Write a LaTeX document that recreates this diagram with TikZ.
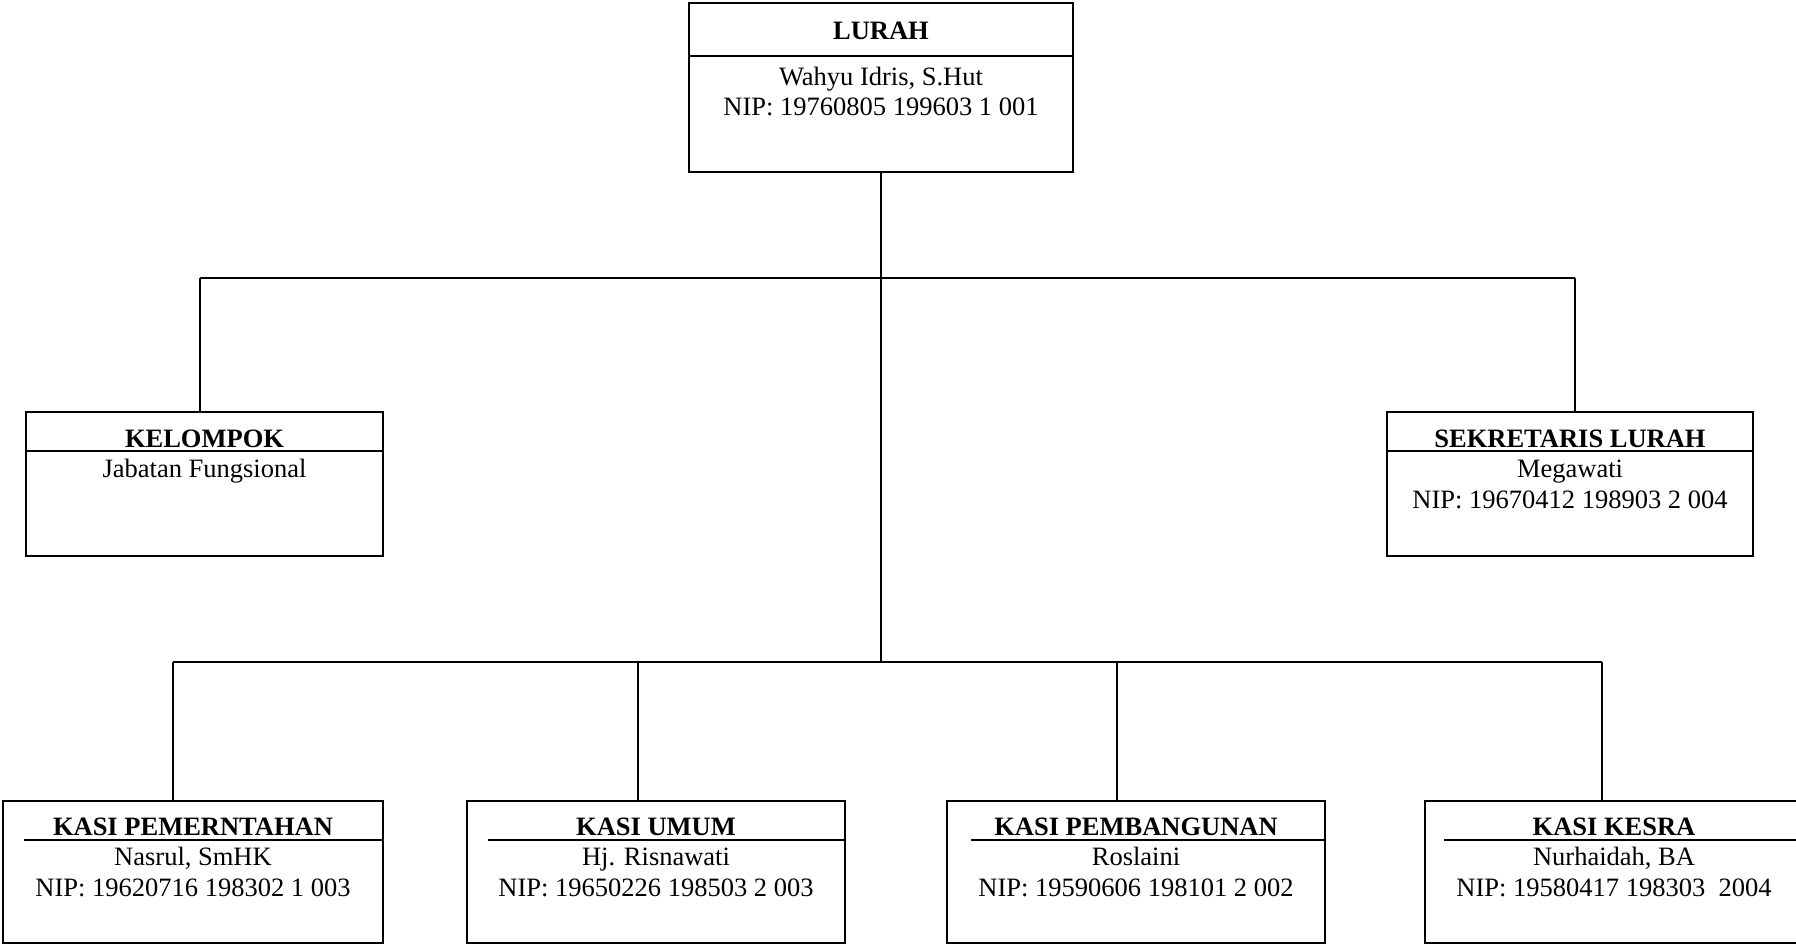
\documentclass[tikz,border=0pt]{standalone}
\usepackage{fontspec}
\setmainfont{Liberation Serif}
\usetikzlibrary{calc}

\begin{document}
\begin{tikzpicture}[x=0.5pt,y=-0.5pt]
							\tikzstyle{every node}+=[inner sep=0pt, font=\fontsize{13.25}{15}\selectfont]
							\tikzstyle{box}=[draw=black, line width=1pt, rectangle]
							\tikzstyle{title}=[anchor=base, font=\fontsize{13.25}{15}\selectfont\bfseries]
							\tikzstyle{line}=[anchor=base]
							\tikzstyle{wire}=[black, line width=0.65pt]
							\useasboundingbox (0,0) rectangle (1796,945);
							% boxes
							\node [box, minimum width=192pt, minimum height=84.5pt] (lurah) at (881,87.5) {};
							\node [box, minimum width=178.5pt, minimum height=72pt] (kel) at (204.5,484) {};
							\node [box, minimum width=183pt, minimum height=72pt] (sek) at (1570,484) {};
							\node [box, minimum width=190pt, minimum height=71pt] (pem) at (193,872) {};
							\node [box, minimum width=189pt, minimum height=71pt] (umum) at (656,872) {};
							\node [box, minimum width=189pt, minimum height=71pt] (bang) at (1136,872) {};
							\node [box, minimum width=189pt, minimum height=71pt] (kesra) at (1614,872) {};
							% dividers
							\draw [black, line width=1pt] ($(lurah.north west)+(0,54)$) -- ($(lurah.north east)+(0,54)$);
							\draw [black, line width=1pt] ($(kel.north west)+(0,40)$) -- ($(kel.north east)+(0,40)$);
							\draw [black, line width=1pt] ($(sek.north west)+(0,40)$) -- ($(sek.north east)+(0,40)$);
							\draw [black, line width=1pt] ($(pem.north west)+(22,40)$) -- ($(pem.north east)+(0,40)$);
							\draw [black, line width=1pt] ($(umum.north west)+(22,40)$) -- ($(umum.north east)+(0,40)$);
							\draw [black, line width=1pt] ($(bang.north west)+(25,40)$) -- ($(bang.north east)+(0,40)$);
							\draw [black, line width=1pt] ($(kesra.north west)+(20,40)$) -- ($(kesra.north east)+(0,40)$);
							% texts
							\node [title] (lurahT) at ($(lurah.north)+(0,38)$) {LURAH};
							\node [line] (lurahN) at ($(lurah.north)+(0,84)$) {Wahyu Idris, S.Hut};
							\node [line] (lurahP) at ($(lurah.north)+(0,114)$) {NIP: 19760805 199603 1 001};
							\node [title] (kelT) at ($(kel.north)+(0,37)$) {KELOMPOK};
							\node [line] (kelN) at ($(kel.north)+(0,67)$) {Jabatan Fungsional};
							\node [title] (sekT) at ($(sek.north)+(0,37)$) {SEKRETARIS LURAH};
							\node [line] (sekN) at ($(sek.north)+(0,67)$) {Megawati};
							\node [line] (sekP) at ($(sek.north)+(0,98)$) {NIP: 19670412 198903 2 004};
							\node [title] (pemT) at ($(pem.north)+(0,36)$) {KASI PEMERNTAHAN};
							\node [line] (pemN) at ($(pem.north)+(0,66)$) {Nasrul, SmHK};
							\node [line] (pemP) at ($(pem.north)+(0,97)$) {NIP: 19620716 198302 1 003};
							\node [title] (umumT) at ($(umum.north)+(0,36)$) {KASI UMUM};
							\node [line] (umumN) at ($(umum.north)+(0,66)$) {Hj. Risnawati};
							\node [line] (umumP) at ($(umum.north)+(0,97)$) {NIP: 19650226 198503 2 003};
							\node [title] (bangT) at ($(bang.north)+(0,36)$) {KASI PEMBANGUNAN};
							\node [line] (bangN) at ($(bang.north)+(0,66)$) {Roslaini};
							\node [line] (bangP) at ($(bang.north)+(0,97)$) {NIP: 19590606 198101 2 002};
							\node [title] (kesraT) at ($(kesra.north)+(0,36)$) {KASI KESRA};
							\node [line] (kesraN) at ($(kesra.north)+(0,66)$) {Nurhaidah, BA};
							\node [line] (kesraP) at ($(kesra.north)+(0,97)$) {NIP: 19580417 198303\ \ 2004};
							% connectors
							\coordinate (kelTop) at (200,278);
							\coordinate (sekTop) at (1575,278);
							\coordinate (pemTop) at (173,662);
							\coordinate (umumTop) at (638,662);
							\coordinate (bangTop) at (1117,662);
							\coordinate (kesraTop) at (1602,662);
							\draw [wire] (lurah.south) -- (lurah.south |- pemTop);
							\draw [wire] (kelTop) -- (sekTop);
							\draw [wire] (kelTop) -- (kelTop |- kel.north);
							\draw [wire] (sekTop) -- (sekTop |- sek.north);
							\draw [wire] (pemTop) -- (kesraTop);
							\draw [wire] (pemTop) -- (pemTop |- pem.north);
							\draw [wire] (umumTop) -- (umumTop |- umum.north);
							\draw [wire] (bangTop) -- (bangTop |- bang.north);
							\draw [wire] (kesraTop) -- (kesraTop |- kesra.north);
						\end{tikzpicture}
\end{document}
